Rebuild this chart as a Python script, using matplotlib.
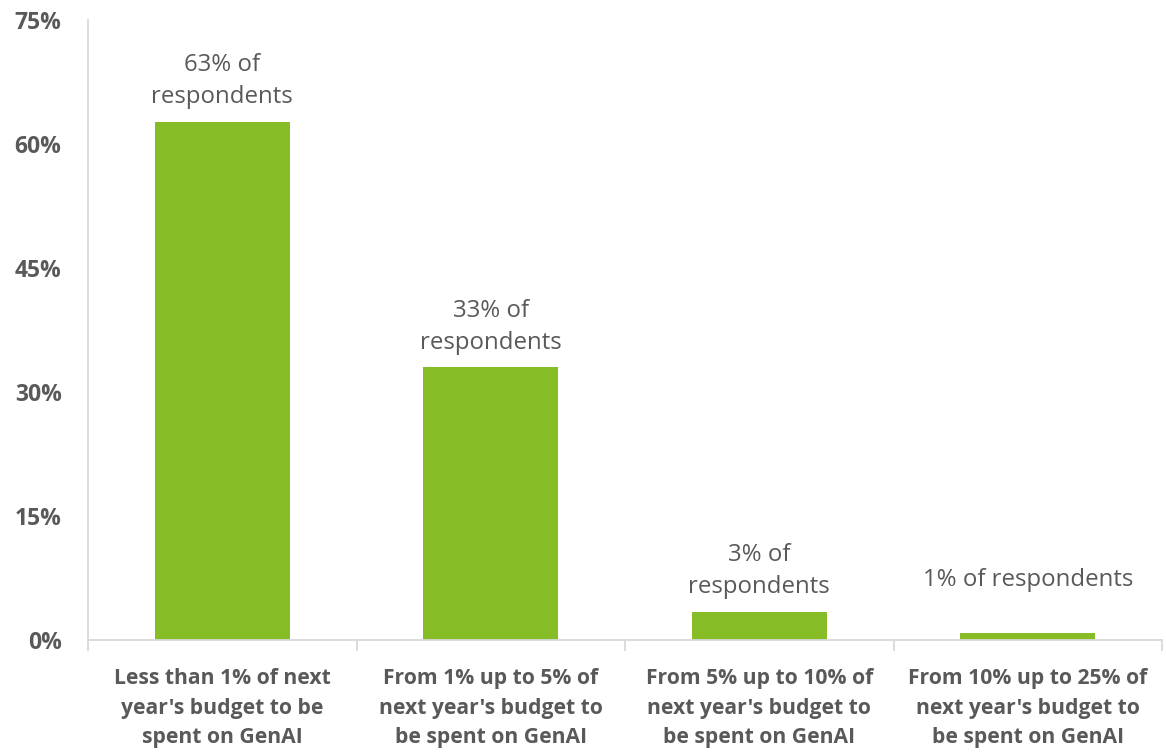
import matplotlib
matplotlib.use("Agg")
import matplotlib.pyplot as plt

categories = [
    "Less than 1% of next\nyear's budget to be\nspent on GenAI",
    "From 1% up to 5% of\nnext year's budget to\nbe spent on GenAI",
    "From 5% up to 10% of\nnext year's budget to\nbe spent on GenAI",
    "From 10% up to 25% of\nnext year's budget to\nbe spent on GenAI",
]
values = [62.7, 33.0, 3.4, 0.9]
labels = ["63% of\nrespondents", "33% of\nrespondents", "3% of\nrespondents", "1% of respondents"]
yticks = [0, 15, 30, 45, 60, 75]

GREEN = "#86BC25"
GREY = "#595959"
AXIS = "#D9D9D9"
plt.rcParams['font.family'] = ['Open Sans', 'DejaVu Sans']

fig = plt.figure(figsize=(11.66, 7.55), dpi=100)
ax = fig.add_axes([88/1166, 1-640/755, (1162-88)/1166, 620/755])

x = list(range(len(categories)))
label_offsets = [9, 9, 9, 29]
ax.bar(x, values, width=0.503, color=GREEN, zorder=2)
for xi, v, lab, off in zip(x, values, labels, label_offsets):
    ax.annotate(lab, (xi, v), xytext=(0, off), textcoords='offset points',
                ha='center', va='bottom', fontsize=17.3, color=GREY, linespacing=1.45)

ax.set_xlim(-0.5, 3.5)
ax.set_ylim(0, 75)
ax.set_yticks(yticks)
ax.set_yticklabels([f"{t}%" for t in yticks], fontsize=16.5, fontweight='bold', color=GREY)
ax.tick_params(axis='y', length=0, pad=19)

ax.set_xticks(x)
ax.set_xticklabels(categories, fontsize=15.2, fontweight='bold', color=GREY, linespacing=1.55)
ax.tick_params(axis='x', length=0, pad=20)
# boundary tick marks
ax.set_xticks([-0.5, 0.5, 1.5, 2.5, 3.5], minor=True)
ax.tick_params(axis='x', which='minor', length=8, color=AXIS, width=1.3)

for s in ['top', 'right']:
    ax.spines[s].set_visible(False)
ax.spines['left'].set_color(AXIS)
ax.spines['bottom'].set_color(AXIS)
ax.spines['left'].set_linewidth(1.3)
ax.spines['bottom'].set_linewidth(1.3)

fig.savefig("out.png", dpi=100)
